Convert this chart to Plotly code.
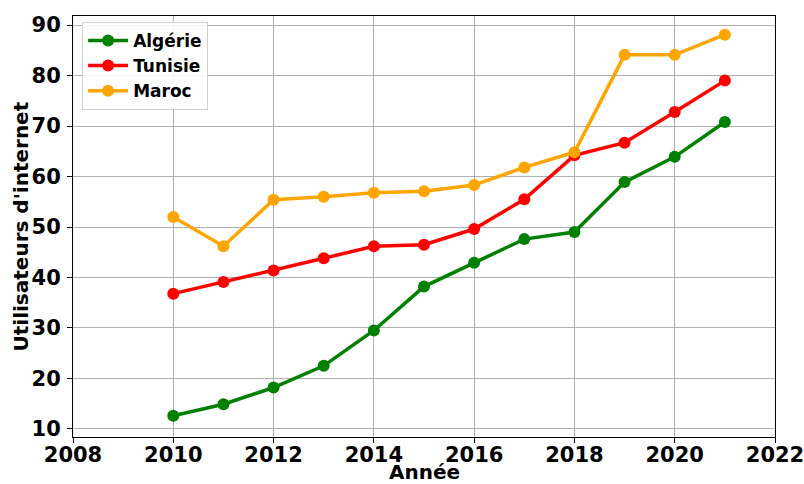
import plotly.graph_objects as go

years = list(range(2010, 2022))
algerie = [12.6, 14.9, 18.2, 22.5, 29.5, 38.2, 42.9, 47.6, 49.0, 58.9, 63.9, 70.8]
tunisie = [36.8, 39.1, 41.4, 43.8, 46.2, 46.5, 49.6, 55.5, 64.2, 66.7, 72.8, 79.0]
maroc = [52.0, 46.2, 55.4, 56.0, 56.8, 57.1, 58.3, 61.8, 64.8, 84.1, 84.1, 88.1]

series = [("Algérie", algerie, "green"), ("Tunisie", tunisie, "red"), ("Maroc", maroc, "orange")]

fig = go.Figure()
for name, vals, col in series:
    fig.add_trace(go.Scatter(x=years, y=vals, name=name, mode="lines+markers",
                             line=dict(color=col, width=3.5),
                             marker=dict(color=col, size=12)))

font = "DejaVu Sans"
fig.update_layout(
    width=804, height=484,
    margin=dict(l=73, r=29, t=16, b=47, autoexpand=False),
    paper_bgcolor="white", plot_bgcolor="white",
    font=dict(family=font, size=20, color="black"),
    showlegend=True,
    legend=dict(x=0.013, y=0.986, xanchor="left", yanchor="top",
                bgcolor="rgba(255,255,255,0.9)", bordercolor="#d0d0d0", borderwidth=1,
                font=dict(family=font, size=17, color="black", weight="bold"),
                itemwidth=40, tracegroupgap=0),
    xaxis=dict(range=[2008, 2022], tickvals=list(range(2008, 2023, 2)),
               showgrid=True, gridcolor="#b0b0b0", gridwidth=1,
               showline=True, linecolor="black", linewidth=1, mirror=True,
               ticks="outside", ticklen=5, tickcolor="black", automargin=False,
               ticklabeloverflow="allow", ticklabelstandoff=-6,
               tickfont=dict(family=font, size=21, weight="bold"),
               zeroline=False),
    yaxis=dict(range=[8.4, 91.8], tickvals=list(range(10, 100, 10)),
               showgrid=True, gridcolor="#b0b0b0", gridwidth=1,
               showline=True, linecolor="black", linewidth=1, mirror=True,
               ticks="outside", ticklen=5, tickcolor="black", automargin=False,
               ticklabeloverflow="allow", ticklabelstandoff=2,
               tickfont=dict(family=font, size=21, weight="bold"),
               zeroline=False),
    annotations=[
        dict(text="<b>Année</b>", xref="paper", yref="paper", x=0.5, y=0,
             xanchor="center", yanchor="middle", yshift=-35, showarrow=False,
             font=dict(family=font, size=20, color="black")),
        dict(text="<b>Utilisateurs d'internet</b>", xref="paper", yref="paper", x=0, y=0.5,
             xanchor="center", yanchor="middle", xshift=-53, textangle=-90, showarrow=False,
             font=dict(family=font, size=20, color="black")),
    ],
)

fig.write_html("out.html", config={"displayModeBar": False},
               post_script="document.body.style.margin='0';")
